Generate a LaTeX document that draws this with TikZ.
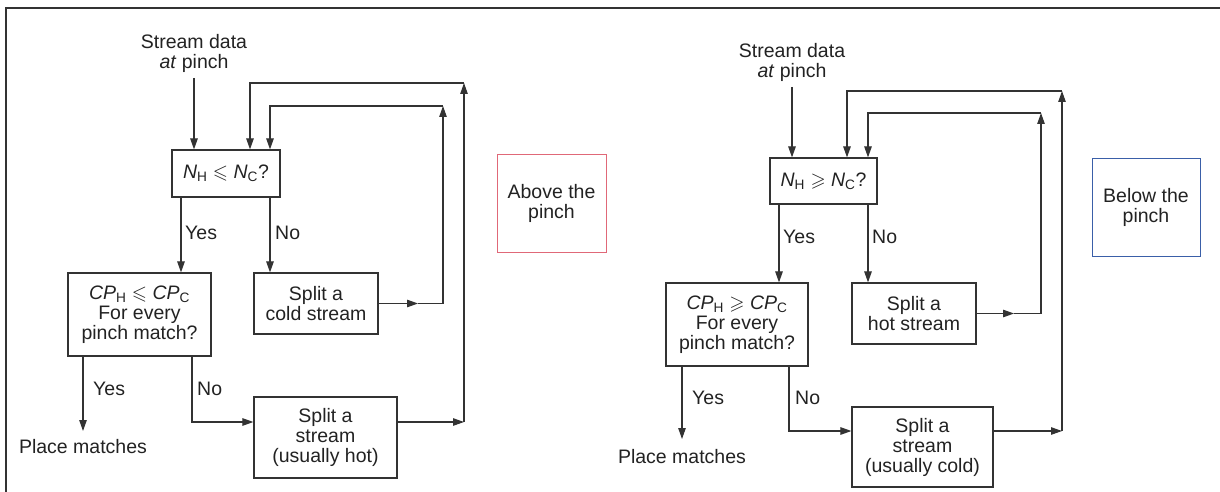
\documentclass[tikz,border=0pt]{standalone}
\usepackage{fontspec}
\setmainfont{Liberation Sans}
\usepackage{amssymb}
\usetikzlibrary{arrows.meta}
\definecolor{ink}{HTML}{333333}
\definecolor{txt}{HTML}{222222}
\definecolor{redbox}{HTML}{E06878}
\definecolor{bluebox}{HTML}{3A5FA8}
\newcommand\myNH{\textit{N}\textsubscript{H}}
\newcommand\myNC{\textit{N}\textsubscript{C}}
\newcommand\myCPH{\textit{CP}\textsubscript{H}}
\newcommand\myCPC{\textit{CP}\textsubscript{C}}
\begin{document}
\begin{tikzpicture}[x=1pt,y=-1pt,
  every node/.style={font=\fontsize{19.5}{20}\selectfont, text=txt},
  box/.style={draw=ink, line width=1.2pt, inner sep=0pt, align=center},
  lbl/.style={anchor=west, inner sep=0pt},
  ln/.style={draw=ink, line width=1.1pt},
  arr/.style={ln, -{Triangle[length=11pt,width=7.5pt]}},
  tag/.style={draw, line width=1pt, inner sep=0pt, align=center},
]
\useasboundingbox (0,0) rectangle (1220,492);
% frame
\draw[ink, line width=1.5pt] (6,492) -- (6,8) -- (1220,8);

% ---------------- left diagram ----------------
\node[align=center, inner sep=0pt] (sd1) at (194,53) {Stream data\\\textit{at} pinch};
\node[box, minimum width=108pt, minimum height=47pt] (b1) at (226,173.5) {\myNH\ $\leqslant$ \myNC?};
\node[box, minimum width=143pt, minimum height=83pt] (b2) at (139.5,314.5) {\myCPH\ $\leqslant$ \myCPC\\For every\\pinch match?};
\node[box, minimum width=124pt, minimum height=61pt] (b3) at (316,303.5) {Split a\\cold stream};
\node[box, minimum width=143pt, minimum height=81pt] (b4) at (325.5,437.5) {Split a\\stream\\(usually hot)};
\node[inner sep=0pt] (pm1) at (83,447) {Place matches};
\node[tag, draw=redbox, minimum width=109pt, minimum height=98pt] (ab) at (551.5,203) {Above the\\pinch};

\coordinate (S1) at (194,78);
\coordinate (L1) at (250,83);
\coordinate (L2) at (464,83);
\coordinate (L3) at (270,106);
\coordinate (L4) at (443,106);
\coordinate (L5) at (443,303.5);
\coordinate (M1) at (418,303.5);
\coordinate (L6) at (464,422);
\coordinate (L7) at (192,422);
\coordinate (Y1) at (181,197);
\coordinate (N1) at (270,197);
\coordinate (Y2) at (83,356);
\coordinate (E1) at (83,431);
\coordinate (N2) at (192,356);

\draw[arr] (S1) -- (S1 |- b1.north);
\draw[arr] (Y1) -- (Y1 |- b2.north);
\draw[arr] (N1) -- (N1 |- b3.north);
\draw[arr] (Y2) -- (E1);
\draw[arr] (N2) -- (L7) -- (b4.west |- L7);
\draw[arr] (b3.east) -- (M1);
\draw[arr] (M1) -- (L5) -- (L4);
\draw[arr] (L4) -- (L3) -- (L3 |- b1.north);
\draw[arr] (b4.east |- L6) -- (L6);
\draw[arr] (L6) -- (L2);
\draw[arr] (L2) -- (L1) -- (L1 |- b1.north);

\node[lbl] (ly1) at (185,233) {Yes};
\node[lbl] (ln1) at (275,233) {No};
\node[lbl] (ly2) at (93,389) {Yes};
\node[lbl] (ln2) at (197,389) {No};

% ---------------- right diagram ----------------
\node[align=center, inner sep=0pt] (sd2) at (792,62) {Stream data\\\textit{at} pinch};
\node[box, minimum width=107pt, minimum height=46pt] (c1) at (823.5,181) {\myNH\ $\geqslant$ \myNC?};
\node[box, minimum width=142pt, minimum height=83pt] (c2) at (737,324.5) {\myCPH\ $\geqslant$ \myCPC\\For every\\pinch match?};
\node[box, minimum width=124pt, minimum height=61pt] (c3) at (914,313.5) {Split a\\hot stream};
\node[box, minimum width=141pt, minimum height=80pt] (c4) at (922.5,447) {Split a\\stream\\(usually cold)};
\node[inner sep=0pt] (pm2) at (682,457) {Place matches};
\node[tag, draw=bluebox, minimum width=108pt, minimum height=98pt] (bl) at (1146,207) {Below the\\pinch};

\coordinate (T1) at (792,87);
\coordinate (R1) at (847,91);
\coordinate (R2) at (1062,91);
\coordinate (R3) at (868,113);
\coordinate (R4) at (1041,113);
\coordinate (R5) at (1041,313.5);
\coordinate (M2) at (1014,313.5);
\coordinate (R6) at (1062,431);
\coordinate (R7) at (789,431);
\coordinate (Y3) at (779,204);
\coordinate (N3) at (868,204);
\coordinate (Y4) at (682,366);
\coordinate (E2) at (682,439);
\coordinate (N4) at (789,366);

\draw[arr] (T1) -- (T1 |- c1.north);
\draw[arr] (Y3) -- (Y3 |- c2.north);
\draw[arr] (N3) -- (N3 |- c3.north);
\draw[arr] (Y4) -- (E2);
\draw[arr] (N4) -- (R7) -- (c4.west |- R7);
\draw[arr] (c3.east) -- (M2);
\draw[arr] (M2) -- (R5) -- (R4);
\draw[arr] (R4) -- (R3) -- (R3 |- c1.north);
\draw[arr] (c4.east |- R6) -- (R6);
\draw[arr] (R6) -- (R2);
\draw[arr] (R2) -- (R1) -- (R1 |- c1.north);

\node[lbl] (ly3) at (783,237) {Yes};
\node[lbl] (ln3) at (872,237) {No};
\node[lbl] (ly4) at (692,398) {Yes};
\node[lbl] (ln4) at (795,398) {No};
\end{tikzpicture}
\end{document}
